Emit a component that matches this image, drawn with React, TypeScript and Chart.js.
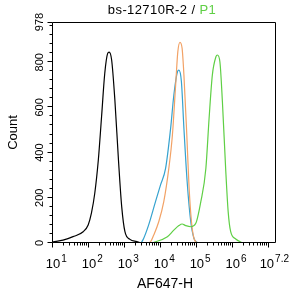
import React, { useEffect, useRef } from "react";
import { Chart, registerables } from "chart.js";

Chart.register(...registerables);

// Fluorescence (AF647-H) values and event counts
const blackX = [10, 19, 36, 69, 95, 117, 145, 182, 224, 275, 331, 363, 427, 525, 661, 813, 1000, 1380, 2138, 2818];
const blackY = [5, 13, 28, 50, 80, 132, 220, 367, 559, 751, 839, 845, 810, 633, 367, 161, 50, 16, 6, 0];

const orangeX = [4169, 5129, 6310, 8710, 12023, 16596, 20893, 25704, 29512, 33884, 38905, 43652, 52481, 60256, 70795, 83176, 102329];
const orangeY = [0, 5, 35, 94, 183, 330, 478, 699, 846, 888, 861, 743, 478, 257, 94, 20, 0];

const blueX = [2818, 3311, 4571, 7079, 9772, 13490, 18621, 22909, 28840, 31623, 37154, 43652, 53703, 67608, 83176, 107152];
const blueY = [0, 20, 80, 183, 257, 330, 507, 655, 758, 765, 714, 507, 271, 94, 20, 0];

const greenX = [5623, 15136, 22909, 31623, 38905, 48978, 67608, 93325, 128825, 177828, 218776, 269153, 338844, 371535, 436516, 512861, 630957, 741310, 870964, 1202264, 1862087];
const greenY = [0, 28, 57, 77, 84, 77, 72, 87, 183, 330, 552, 743, 824, 832, 802, 625, 330, 139, 50, 18, 0];

const xMin = 10;
const xMax = 15848932; // 10^7.2
const xTickExponents = ["1", "2", "3", "4", "5", "6", "7.2"];
const xTickValues = [10, 100, 1000, 10000, 100000, 1000000, 15848932];
const yTickValues = [0, 200, 400, 600, 800, 978];
const yTickLabels = ["0", "200", "400", "600", "800", "978"];
const yMax = 978;

const titleMain = "bs-12710R-2 / ";
const titleGate = "P1";
const xTitle = "AF647-H";
const yTitle = "Count";

const FONT = "'Liberation Sans', Arial, sans-serif";

const toPts = (xs: number[], ys: number[]) => xs.map((v, i) => ({ x: v, y: ys[i] }));

const axesPlugin = {
  id: "flowAxes",
  afterDatasetsDraw(chart: any) {
    const { ctx, chartArea: a, scales } = chart;
    const x = scales.x;
    const y = scales.y;
    ctx.save();
    ctx.strokeStyle = "#000";
    ctx.fillStyle = "#000";
    ctx.lineWidth = 1;
    // frame
    const L = Math.round(a.left) - 0.5;
    const R = Math.round(a.right) - 0.5;
    const T = Math.round(a.top) + 0.5;
    const B = Math.round(a.bottom) - 0.5;
    ctx.beginPath();
    ctx.moveTo(L, T);
    ctx.lineTo(R, T);
    ctx.lineTo(R, B);
    ctx.lineTo(L, B);
    ctx.closePath();
    ctx.stroke();

    // y ticks
    ctx.beginPath();
    for (let v = 0; v <= yMax; v += 40) {
      const py = Math.round(y.getPixelForValue(v)) - 0.5;
      const len = v % 200 === 0 ? 5 : 3;
      ctx.moveTo(L - len, py);
      ctx.lineTo(L, py);
    }
    const pTop = Math.round(y.getPixelForValue(yMax)) + 0.5;
    ctx.moveTo(L - 5, pTop);
    ctx.lineTo(L, pTop);
    // x ticks
    for (let e = 1; e <= 7; e++) {
      for (let k = 1; k <= 9; k++) {
        const v = k * Math.pow(10, e);
        if (v > xMax) break;
        const px = Math.round(x.getPixelForValue(v)) - 0.5;
        const len = k === 1 ? 5 : 3;
        ctx.moveTo(px, B);
        ctx.lineTo(px, B + len);
      }
    }
    ctx.stroke();

    // y labels (rotated)
    ctx.font = `11px ${FONT}`;
    ctx.textAlign = "center";
    ctx.textBaseline = "middle";
    yTickValues.forEach((v, i) => {
      const py = y.getPixelForValue(v);
      ctx.save();
      ctx.translate(40, py);
      ctx.rotate(-Math.PI / 2);
      ctx.fillText(yTickLabels[i], 0, 0);
      ctx.restore();
    });

    // x labels: 10 with superscript exponent
    xTickValues.forEach((v, i) => {
      const px = x.getPixelForValue(v);
      ctx.font = `13px ${FONT}`;
      const wBase = ctx.measureText("10").width;
      ctx.font = `10px ${FONT}`;
      const wExp = ctx.measureText(xTickExponents[i]).width;
      let left = px - wBase / 2;
      if (left + wBase + wExp + 1 > 289) left = 289 - wBase - wExp - 1;
      ctx.textAlign = "left";
      ctx.textBaseline = "alphabetic";
      ctx.font = `13px ${FONT}`;
      ctx.fillText("10", left, 268);
      ctx.font = `10px ${FONT}`;
      ctx.fillText(xTickExponents[i], left + wBase + 1, 262);
    });

    // axis titles
    ctx.textAlign = "center";
    ctx.textBaseline = "middle";
    ctx.font = `14px ${FONT}`;
    ctx.fillText(xTitle, 165, 284);
    ctx.font = `13px ${FONT}`;
    ctx.save();
    ctx.translate(13, (a.top + a.bottom) / 2);
    ctx.rotate(-Math.PI / 2);
    ctx.fillText(yTitle, 0, 0);
    ctx.restore();

    // title
    ctx.font = `13px ${FONT}`;
    try {
      (ctx as any).letterSpacing = "0.4px";
    } catch (e) {}
    const w1 = ctx.measureText(titleMain).width;
    const w2 = ctx.measureText(titleGate).width;
    const start = 162 - (w1 + w2) / 2;
    ctx.textAlign = "left";
    ctx.fillStyle = "#000";
    ctx.fillText(titleMain, start, 10);
    ctx.fillStyle = "#5fcf45";
    ctx.fillText(titleGate, start + w1, 10);
    try {
      (ctx as any).letterSpacing = "0px";
    } catch (e) {}
    ctx.restore();
  },
};

export default function App() {
  const ref = useRef<HTMLCanvasElement | null>(null);
  useEffect(() => {
    if (!ref.current) return;
    const mk = (label: string, xs: number[], ys: number[], color: string) => ({
      label,
      data: toPts(xs, ys),
      borderColor: color,
      backgroundColor: color,
      borderWidth: 1.2,
      pointRadius: 0,
      showLine: true,
      fill: false,
      cubicInterpolationMode: "monotone" as const,
    });
    const chart = new Chart(ref.current, {
      type: "scatter",
      data: {
        datasets: [
          mk("Control", blackX, blackY, "#000000"),
          mk("P1", greenX, greenY, "#5fcf45"),
          mk("Orange", orangeX, orangeY, "#f2a266"),
          mk("Blue", blueX, blueY, "#35a2cf"),
        ],
      },
      options: {
        animation: false,
        responsive: false,
        devicePixelRatio: 1,
        layout: { padding: { left: 53, right: 14, top: 22, bottom: 53 } },
        plugins: { legend: { display: false }, tooltip: { enabled: false }, title: { display: false } },
        scales: {
          x: { type: "logarithmic", min: xMin, max: xMax, display: false },
          y: { type: "linear", min: 0, max: yMax, display: false },
        },
      },
      plugins: [axesPlugin],
    });
    return () => chart.destroy();
  }, []);
  return (
    <div style={{ position: "fixed", left: 0, top: 0, width: 290, height: 296, background: "#fff" }}>
      <canvas ref={ref} width={290} height={296} style={{ display: "block" }} />
    </div>
  );
}
